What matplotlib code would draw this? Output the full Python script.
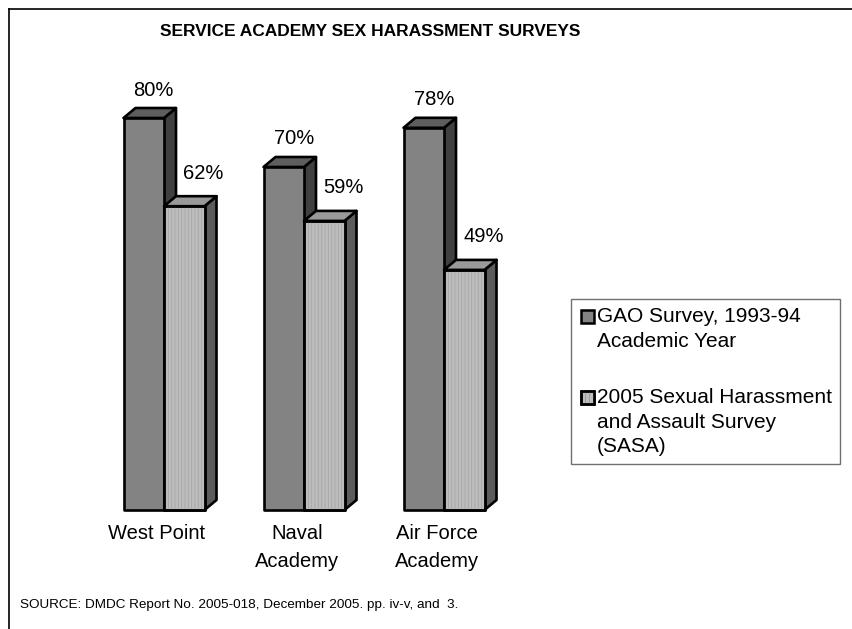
import matplotlib
matplotlib.use("Agg")
import matplotlib.pyplot as plt
from matplotlib.patches import Rectangle, Polygon
from matplotlib.lines import Line2D

categories = ["West Point", "Naval\nAcademy", "Air Force\nAcademy"]
gao = [80, 70, 78]
sasa = [62, 59, 49]
series_names = ["GAO Survey, 1993-94\nAcademic Year",
                "2005 Sexual Harassment\nand Assault Survey\n(SASA)"]
title = "SERVICE ACADEMY SEX HARASSMENT SURVEYS"
source = "SOURCE: DMDC Report No. 2005-018, December 2005. pp. iv-v, and  3."

W, H = 853, 629
plt.rcParams['font.family'] = ['Liberation Sans', 'DejaVu Sans']
plt.rcParams['hatch.linewidth'] = 0.6
fig = plt.figure(figsize=(W / 100, H / 100), dpi=100)

def fx(px):
    return px / W

def fy(py):
    return 1 - py / H

# axes geometry (pixels)
ax_left, ax_right = 20, 580
ax_top, ax_bottom = 60, 510
px_per_unit_x = 140.0
px_per_pct = 4.9
x0_px = 164.0
ax = fig.add_axes([fx(ax_left), fy(ax_bottom), (ax_right - ax_left) / W, (ax_bottom - ax_top) / H])
ax.set_xlim((ax_left - x0_px) / px_per_unit_x, (ax_right - x0_px) / px_per_unit_x)
ax.set_ylim(0, (ax_bottom - ax_top) / px_per_pct)
ax.axis('off')

bw = 40.5 / px_per_unit_x
ddx = 12 / px_per_unit_x
ddy = 10 / px_per_pct
lw = 1.9

styles = [
    dict(front="#838383", top="#5e5e5e", side="#404040", hatch=None),
    dict(front="#bdbdbd", top="#999999", side="#5c5c5c", hatch="|||||"),
]

def draw_bar(xl, h, st, z):
    side = Polygon([(xl + bw, 0), (xl + bw + ddx, ddy), (xl + bw + ddx, h + ddy), (xl + bw, h)],
                   closed=True, facecolor=st["side"], edgecolor="black", lw=lw, zorder=z,
                   clip_on=False, joinstyle='round')
    top = Polygon([(xl, h), (xl + ddx, h + ddy), (xl + bw + ddx, h + ddy), (xl + bw, h)],
                  closed=True, facecolor=st["top"], edgecolor="black", lw=lw, zorder=z,
                  clip_on=False, joinstyle='round')
    front = Rectangle((xl, 0), bw, h, facecolor=st["front"], edgecolor="black", lw=lw,
                      zorder=z, clip_on=False, joinstyle='round')
    ax.add_patch(side)
    ax.add_patch(top)
    ax.add_patch(front)
    if st["hatch"]:
        hr = Rectangle((xl, 0), bw, h, facecolor="none", edgecolor="#a6a6a6", lw=0,
                       hatch=st["hatch"], zorder=z + 0.1, clip_on=False)
        ax.add_patch(hr)
        outline = Rectangle((xl, 0), bw, h, facecolor="none", edgecolor="black", lw=lw,
                            zorder=z + 0.2, clip_on=False, joinstyle='round')
        ax.add_patch(outline)

PT = 0.72  # points per pixel
for i, cat in enumerate(categories):
    xl_g = i - bw
    xl_s = i
    draw_bar(xl_g, gao[i], styles[0], 2 + i * 2)
    draw_bar(xl_s, sasa[i], styles[1], 3 + i * 2)
    ax.annotate(f"{gao[i]}%", (xl_g + bw / 2, gao[i]), xytext=(10 * PT, 28 * PT),
                textcoords="offset points", ha="center", va="center", fontsize=14.5,
                annotation_clip=False)
    ax.annotate(f"{sasa[i]}%", (xl_s + bw / 2, sasa[i]), xytext=(19 * PT, 33 * PT),
                textcoords="offset points", ha="center", va="center", fontsize=14.5,
                annotation_clip=False)
    ax.annotate(cat, (i, 0), xytext=(-7 * PT, -14 * PT), textcoords="offset points",
                ha="center", va="top", fontsize=14.5, linespacing=1.62,
                annotation_clip=False)

# title and source
fig.text(fx(370), fy(31), title, ha="center", va="center", fontsize=12.5, fontweight="bold")
fig.text(fx(20), fy(605), source, ha="left", va="center", fontsize=9.7)

# outer border (left and top)
fig.add_artist(Line2D([fx(9), fx(9)], [fy(9), 0], color="black", lw=1.2))
fig.add_artist(Line2D([fx(9), 1], [fy(9), fy(9)], color="black", lw=1.2))

# legend
lx0, lx1, ly0, ly1 = 571, 840, 299, 464
fig.add_artist(Rectangle((fx(lx0), fy(ly1)), (lx1 - lx0) / W, (ly1 - ly0) / H,
                         transform=fig.transFigure, facecolor="white", edgecolor="#707070", lw=1))
entry_y = [316, 397]
for k, name in enumerate(series_names):
    sq = 13
    fig.add_artist(Rectangle((fx(581), fy(entry_y[k] + sq / 2)), sq / W, sq / H,
                             transform=fig.transFigure, facecolor=styles[k]["front"],
                             edgecolor="black", lw=1.8))
    if styles[k]["hatch"]:
        fig.add_artist(Rectangle((fx(581), fy(entry_y[k] + sq / 2)), sq / W, sq / H,
                                 transform=fig.transFigure, facecolor="none",
                                 edgecolor="#9a9a9a", lw=0, hatch="||||"))
        fig.add_artist(Rectangle((fx(581), fy(entry_y[k] + sq / 2)), sq / W, sq / H,
                                 transform=fig.transFigure, facecolor="none",
                                 edgecolor="black", lw=1.8))
    fig.text(fx(597), fy(entry_y[k] - 9), name, ha="left", va="top", fontsize=15,
             linespacing=1.38)

fig.savefig("out.png", dpi=100)
